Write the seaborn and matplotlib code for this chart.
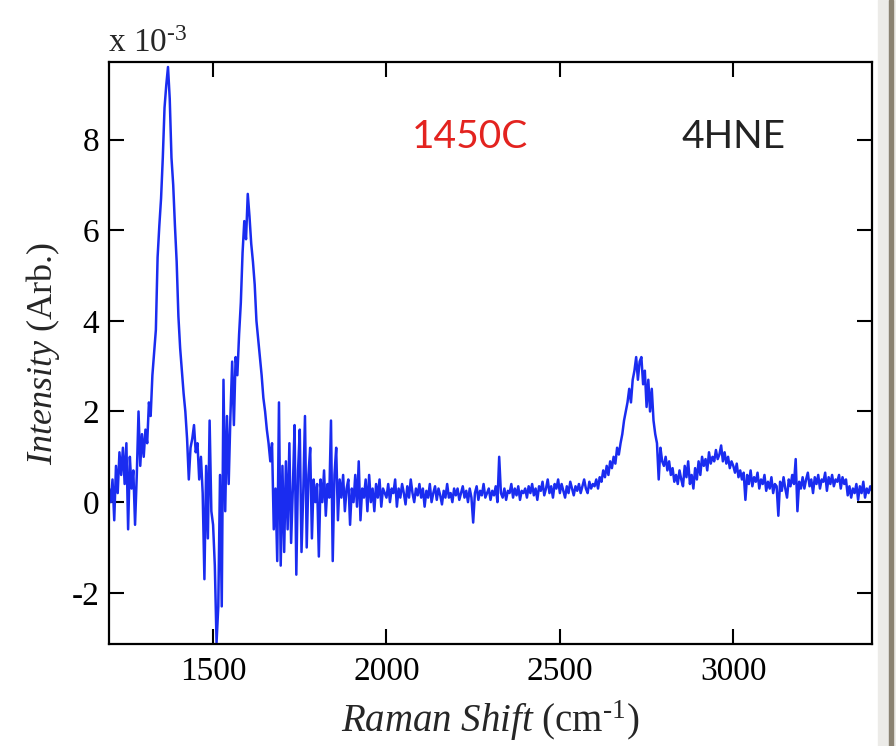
import numpy as np
import pandas as pd
import matplotlib
matplotlib.use("Agg")
import matplotlib.pyplot as plt
import seaborn as sns

# ---------------------- Data (intensity in units of 1e-3) ----------------------
# Raman shift grid, 5 cm-1 steps from 1200 to 3400
shift = np.arange(1200, 3401, 5)

# 1200 - 1695 cm-1 : D and G bands
d_g_region = [
    0.3, 0.0, 0.5, -0.4, 0.8, 0.2, 1.1, 0.6, 1.2, 0.4, 1.3, -0.6, 1.0, 0.3, 0.7, -0.5, 0.6, 2.0, 0.8, 1.5,
    1.0, 1.6, 1.3, 2.2, 1.9, 2.8, 3.3, 3.8, 5.4, 6.1, 6.7, 7.6, 8.7, 9.2, 9.6, 8.9, 7.6, 7.0, 6.1, 5.3,
    4.1, 3.4, 2.9, 2.4, 2.0, 1.4, 0.5, 1.2, 1.4, 1.7, 1.1, 1.3, 0.5, 1.0, 0.2, -1.7, 0.8, -0.8, 1.8, -0.2,
    -0.5, -1.4, -3.1, -2.3, 0.6, -2.3, 2.7, -0.2, 1.9, 0.4, 1.9, 3.1, 1.7, 3.2, 2.8, 3.7, 4.4, 5.5, 6.2, 5.8,
    6.8, 6.3, 5.7, 5.3, 4.8, 4.0, 3.6, 3.2, 2.8, 2.3, 2.0, 1.6, 1.3, 0.9, 1.3, -0.6, 0.3, -1.3, 2.2, -1.4,
]

# 1700 - 2595 cm-1 : noisy baseline
baseline_region = [
    0.8, -1.1, 0.9, -0.6, 1.3, -0.9, 0.3, 1.7, -1.6, 0.7, 1.6, -1.1, 0.2, 1.9, -1.0, 0.6, 1.2, -0.8, 0.5, 0.0,
    0.4, -1.2, 0.5, 0.0, 0.7, -0.3, 0.4, 0.1, 1.8, -1.3, 0.6, 1.2, -0.4, 0.5, 0.1, 0.6, -0.2, 0.3, 0.5, -0.5,
    0.3, 0.0, 0.6, -0.1, 0.9, -0.4, 0.3, 0.1, 0.5, -0.2, 0.6, 0.0, 0.3, -0.2, 0.4, 0.1, 0.5, -0.1, 0.3, 0.2,
    0.1, 0.4, 0.0, 0.3, 0.2, 0.5, -0.1, 0.3, 0.1, 0.4, 0.2, -0.05, 0.35, 0.1, 0.5, 0.2, 0.0, 0.3, 0.15, 0.4,
    0.1, 0.3, -0.1, 0.25, 0.1, 0.4, 0.0, 0.2, 0.35, 0.05, 0.3, 0.15, -0.05, 0.25, 0.1, 0.4, 0.1, 0.2, 0.0, 0.3,
    0.15, 0.3, 0.05, 0.2, 0.35, 0.1, 0.25, 0.0, 0.3, 0.1, -0.45, 0.2, 0.35, 0.05, 0.25, 0.15, 0.4, 0.1, 0.2, 0.3,
    0.05, 0.25, 0.15, 0.35, 0.0, 1.0, 0.2, 0.1, 0.3, 0.05, 0.25, 0.2, 0.4, 0.1, 0.3, 0.15, 0.35, 0.05, 0.25, 0.2,
    0.3, 0.1, 0.35, 0.2, 0.4, 0.15, 0.3, 0.05, 0.35, 0.25, 0.45, 0.15, 0.3, 0.5, 0.2, 0.35, 0.1, 0.4, 0.3, 0.5,
    0.2, 0.4, 0.25, 0.1, 0.35, 0.2, 0.45, 0.3, 0.15, 0.35, 0.25, 0.4, 0.2, 0.35, 0.5, 0.3, 0.2, 0.45, 0.3, 0.4,
]

# 2600 - 3400 cm-1 : 2D band and D+G band
band_2d_region = [
    0.35, 0.5, 0.3, 0.55, 0.45, 0.7, 0.55, 0.8, 0.6, 0.9, 0.75, 1.0, 0.85, 1.2, 1.05, 1.3, 1.5, 1.8, 2.0, 2.2,
    2.5, 2.2, 2.7, 2.9, 3.2, 2.7, 3.1, 3.2, 2.6, 2.9, 2.1, 2.7, 2.0, 2.5, 1.8, 1.5, 1.3, 0.5, 1.2, 0.9,
    0.8, 1.0, 0.7, 0.9, 0.6, 0.75, 0.45, 0.6, 0.4, 0.7, 0.5, 0.35, 0.8, 0.55, 0.9, 0.4, 0.6, 0.3, 0.75, 0.5,
    0.9, 0.6, 1.0, 0.8, 0.95, 0.7, 1.1, 0.85, 1.0, 0.9, 1.15, 0.95, 1.05, 1.25, 0.9, 1.1, 0.85, 1.0, 0.75, 0.9,
    0.8, 0.65, 0.85, 0.55, 0.7, 0.5, 0.65, 0.05, 0.6, 0.4, 0.7, 0.35, 0.55, 0.45, 0.65, 0.3, 0.5, 0.4, 0.6, 0.25,
    0.45, 0.3, 0.55, 0.2, 0.4, 0.35, -0.3, 0.45, 0.25, 0.55, 0.3, 0.1, 0.5, 0.35, 0.6, 0.4, 0.95, -0.2, 0.45, 0.3,
    0.55, 0.3, 0.5, 0.65, 0.35, 0.5, 0.2, 0.55, 0.4, 0.6, 0.3, 0.5, 0.45, 0.65, 0.25, 0.55, 0.4, 0.6, 0.35, 0.5,
    0.45, 0.6, 0.3, 0.55, 0.4, 0.5, 0.15, 0.35, 0.1, 0.3, 0.2, 0.4, 0.05, 0.35, 0.2, 0.45, 0.1, 0.3, 0.2, 0.35,
    0.25,
]

x_ticks = [1500, 2000, 2500, 3000]
y_ticks = [-2, 0, 2, 4, 6, 8]

intensity = np.array(d_g_region + baseline_region + band_2d_region)
df = pd.DataFrame({"shift": shift, "intensity": intensity})

# ---------------------- Style ----------------------
sns.set_theme(style="ticks")
plt.rcParams["font.family"] = ["Liberation Serif", "DejaVu Serif"]
plt.rcParams["mathtext.fontset"] = "custom"
plt.rcParams["mathtext.rm"] = "Liberation Serif"
plt.rcParams["mathtext.it"] = "Liberation Serif:italic"
plt.rcParams["axes.unicode_minus"] = False

fig = plt.figure(figsize=(8.96, 7.46), dpi=100)
ax = fig.add_axes([0.1217, 0.1367, 0.8515, 0.7802])

sns.lineplot(data=df, x="shift", y="intensity", ax=ax, color="#1a2cf0",
             linewidth=1.8, estimator=None)

ax.set_xlim(1200, 3400)
ax.set_ylim(-3.13, 9.71)
ax.set_xticks(x_ticks)
ax.set_yticks(y_ticks)
ax.tick_params(direction="in", length=11, width=1.5, top=True, right=True,
               labelsize=24, colors="black")
ax.tick_params(axis="x", pad=9)
ax.tick_params(axis="y", pad=7)
for sp in ax.spines.values():
    sp.set_linewidth(1.6)
    sp.set_color("black")

ax.set_xlabel(r"$\mathit{Raman\ Shift}$ (cm$^{\text{-}1}$)", fontsize=28, labelpad=8)
ax.set_ylabel(r"$\mathit{Intensity}$ (Arb.)", fontsize=26, labelpad=7)

fig.text(108 / 896, 1 - 52 / 746, r"x 10$^{\text{-}3}$", fontsize=24, va="baseline", ha="left")

ax.text(2073, 7.81, "1450C", color="#e3231f", fontsize=28, family=["Lato", "DejaVu Sans"],
        ha="left", va="baseline")
ax.text(2851, 7.81, "4HNE", color="#222222", fontsize=28, family=["Lato", "DejaVu Sans"],
        ha="left", va="baseline")

# slide background strip on the right edge
fig.patches.append(plt.Rectangle((878 / 896, 0), 18 / 896, 1, transform=fig.transFigure,
                                 color="#ecebe8", zorder=-1))
fig.patches.append(plt.Rectangle((889 / 896, 0), 4 / 896, 1, transform=fig.transFigure,
                                 color="#8a8272", zorder=-1))

fig.savefig("out.png", dpi=100)
